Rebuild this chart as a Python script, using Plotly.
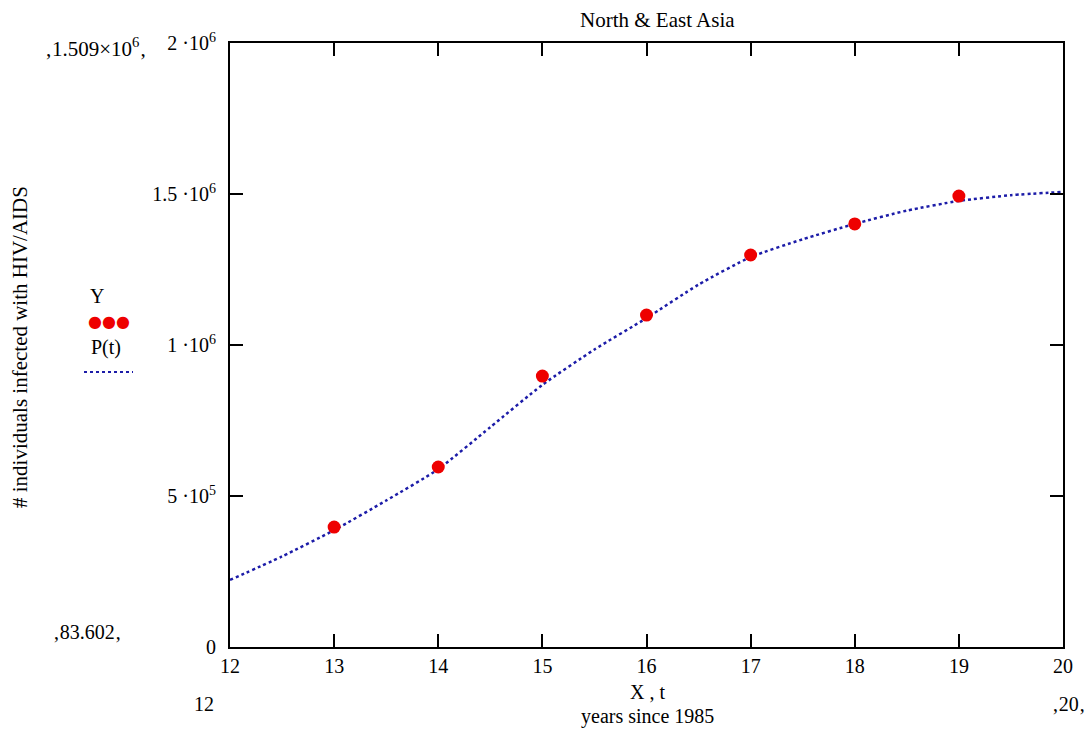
import plotly.graph_objects as go

# Observed data (years since 1985, individuals infected)
years = [13, 14, 15, 16, 17, 18, 19]
infected = [397000, 596000, 897000, 1099000, 1298000, 1401000, 1493000]

# Fitted curve P(t)
t_fit = [12, 12.5, 13, 13.5, 14, 14.5, 15, 15.5, 16, 16.5, 17, 17.5, 18, 18.5, 19, 19.5, 20]
p_fit = [222000, 300000, 387000, 485000, 589000, 728000, 868000, 985000, 1089000,
         1200000, 1291000, 1350000, 1401000, 1445000, 1477000, 1496000, 1507000]

x_ticks = [12, 13, 14, 15, 16, 17, 18, 19, 20]
x_tick_text = ["12", "13", "14", "15", "16", "17", "18", "19", "20"]
y_ticks = [0, 500000, 1000000, 1500000, 2000000]
y_tick_text = ["0", "5 ·10<sup>5</sup>", "1 ·10<sup>6</sup>", "1.5 ·10<sup>6</sup>", "2 ·10<sup>6</sup>"]

FONT = "Liberation Serif, Times New Roman, serif"
LINE_COLOR = "#1c1ca8"
DOT_COLOR = "#ee0000"
FS = 20

fig = go.Figure()
fig.add_trace(go.Scatter(x=t_fit, y=p_fit, mode="lines", line=dict(color=LINE_COLOR, width=2.5, dash="dot", shape="spline", smoothing=0.6),
                         showlegend=False, hoverinfo="skip"))
fig.add_trace(go.Scatter(x=years, y=infected, mode="markers", marker=dict(color=DOT_COLOR, size=13),
                         showlegend=False))

axis_common = dict(showgrid=False, zeroline=False, showline=True, linecolor="black", linewidth=2,
                   mirror="ticks", ticks="inside", ticklen=13, tickwidth=2, tickcolor="black",
                   tickfont=dict(family=FONT, size=FS, color="black"))

fig.update_xaxes(range=[12, 20], tickvals=x_ticks, ticktext=x_tick_text, **axis_common)
fig.update_yaxes(range=[0, 2000000], tickvals=y_ticks, ticktext=y_tick_text, ticklabelstandoff=8, **axis_common)

annotations = [
    dict(text="North &amp; East Asia", x=657, y=20, showarrow=False, font=dict(family=FONT, size=21)),
    dict(text="# individuals infected with HIV/AIDS", x=20, y=347,
         textangle=-90, showarrow=False, font=dict(family=FONT, size=21)),
    dict(text="X , t", x=647, y=692, showarrow=False, font=dict(family=FONT, size=FS)),
    dict(text="years since 1985", x=647, y=716, showarrow=False, font=dict(family=FONT, size=20)),
    dict(text="‚1.509×10<sup>6</sup>‚", x=95, y=47, showarrow=False, font=dict(family=FONT, size=21)),
    dict(text="‚83.602‚", x=87, y=632, showarrow=False, font=dict(family=FONT, size=FS)),
    dict(text="12", x=204, y=704, showarrow=False, font=dict(family=FONT, size=FS)),
    dict(text="‚20‚", x=1068, y=704, showarrow=False, font=dict(family=FONT, size=FS)),
    dict(text="Y", x=97, y=296, showarrow=False, font=dict(family=FONT, size=FS)),
    dict(text="●●●", x=109, y=321, showarrow=False, font=dict(family="DejaVu Sans", size=16, color=DOT_COLOR)),
    dict(text="P(t)", x=106, y=347, showarrow=False, font=dict(family=FONT, size=FS)),
]

# convert pixel annotation positions to paper coords
W, H = 1091, 749
L, R, T, B = 230, 28, 43, 102
pw, ph = W - L - R, H - T - B
for a in annotations:
    a["x"] = (a["x"] - L) / pw
    a["y"] = 1 - (a["y"] - T) / ph
    a["xref"] = "paper"
    a["yref"] = "paper"
    a["xanchor"] = "center"
    a["yanchor"] = "middle"

fig.update_layout(
    width=W, height=H,
    margin=dict(l=L, r=R, t=T, b=B),
    paper_bgcolor="white", plot_bgcolor="white",
    font=dict(family=FONT, color="black"),
    annotations=annotations,
    shapes=[dict(type="line", xref="paper", yref="paper",
                 x0=(84 - L) / pw, x1=(133 - L) / pw,
                 y0=1 - (372 - T) / ph, y1=1 - (372 - T) / ph,
                 line=dict(color=LINE_COLOR, width=2, dash="dot"))],
)

fig.write_html("out.html")
